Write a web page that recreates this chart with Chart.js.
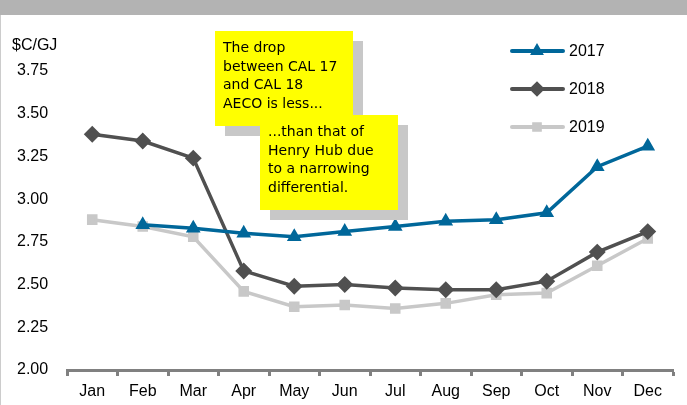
<!DOCTYPE html>
<html>
<head>
<meta charset="utf-8">
<script src="https://cdn.jsdelivr.net/npm/chart.js@4"></script>
<style>
  html, body { margin: 0; padding: 0; background: #fff; }
  #wrap { width: 687px; height: 405px; position: relative; }
</style>
</head>
<body>
<div id="wrap"><canvas id="chart" width="687" height="405"></canvas></div>
<script>
let months = ["Jan", "Feb", "Mar", "Apr", "May", "Jun", "Jul", "Aug", "Sep", "Oct", "Nov", "Dec"];
let prices2017 = [null, 2.85, 2.83, 2.80, 2.78, 2.81, 2.84, 2.87, 2.88, 2.92, 3.19, 3.31];
let prices2018 = [3.38, 3.34, 3.24, 2.58, 2.49, 2.50, 2.48, 2.47, 2.47, 2.52, 2.69, 2.81];
let prices2019 = [2.88, 2.84, 2.78, 2.46, 2.37, 2.38, 2.36, 2.39, 2.44, 2.45, 2.61, 2.77];
let yUnit = "$C/GJ";
let noteA = ["The drop", "between CAL 17", "and CAL 18", "AECO is less..."];
let noteB = ["...than that of", "Henry Hub due", "to a narrowing", "differential."];

let font = "'Liberation Sans', Arial, sans-serif";

// frame, unit label, note boxes and legend drawn straight on the canvas
let decor = {
  id: "decor",
  beforeDraw(chart) {
    let c = chart.ctx;
    c.save();
    c.fillStyle = "#b3b3b3";
    c.fillRect(0, 0, 687, 15);
    c.fillStyle = "#cccccc";
    c.fillRect(0, 15, 1, 390);
    c.fillStyle = "#000";
    c.font = "16px " + font;
    c.textBaseline = "middle";
    c.fillText(yUnit, 12, 46);
    c.restore();
  },
  afterDraw(chart) {
    let c = chart.ctx;
    c.save();
    let note = (x, y, w, h, lines) => {
      c.fillStyle = "#c8c8c8";
      c.fillRect(x + 10, y + 10, w, h);
      c.fillStyle = "#ffff00";
      c.fillRect(x, y, w, h);
      c.fillStyle = "#000";
      c.font = "14px 'Comic Sans MS', 'DejaVu Sans', sans-serif";
      c.textBaseline = "alphabetic";
      lines.forEach((t, i) => c.fillText(t, x + 8, y + 21 + i * 18.5));
    };
    note(215, 31, 138, 95, noteA);
    note(260, 115, 138, 95, noteB);

    // legend
    chart.data.datasets.forEach((ds, i) => {
      let y = 51 + i * 38;
      c.strokeStyle = ds.borderColor;
      c.lineWidth = 4;
      c.lineCap = "round";
      c.beginPath();
      c.moveTo(512, y);
      c.lineTo(563, y);
      c.stroke();
      Chart.helpers.drawPoint(c, {
        pointStyle: ds.pointStyle,
        radius: ds.pointRadius - 1,
        rotation: 0,
        borderWidth: 1
      }, 537, y);
      c.fillStyle = ds.borderColor;
      c.fill();
      c.fillStyle = "#000";
      c.font = "16px " + font;
      c.textBaseline = "middle";
      c.fillText(ds.label, 569, y + 1);
    });
    c.restore();
  }
};

function series(label, data, color, style, r) {
  return {
    label: label,
    data: data,
    borderColor: color,
    backgroundColor: color,
    pointBackgroundColor: color,
    pointBorderColor: color,
    pointStyle: style,
    pointRadius: r,
    borderWidth: 3.5,
    tension: 0,
    spanGaps: false
  };
}

new Chart(document.getElementById("chart"), {
  type: "line",
  plugins: [decor],
  data: {
    labels: months,
    datasets: [
      series("2017", prices2017, "#00679a", "triangle", 5),
      series("2018", prices2018, "#505050", "rectRot", 6),
      series("2019", prices2019, "#c8c8c8", "rect", 5)
    ]
  },
  options: {
    responsive: false,
    animation: false,
    devicePixelRatio: 1,
    layout: { padding: { top: 71, left: 17, right: 14, bottom: 0 } },
    plugins: {
      legend: { display: false },
      title: { display: false },
      tooltip: { enabled: false }
    },
    scales: {
      x: {
        offset: true,
        afterFit: (s) => { s.height = 35; },
        grid: {
          offset: true,
          drawOnChartArea: false,
          drawTicks: true,
          tickLength: 6,
          tickWidth: 3,
          color: "#808080"
        },
        border: { display: true, color: "#808080", width: 3 },
        ticks: {
          color: "#000",
          font: { size: 16, family: font },
          padding: 6,
          maxRotation: 0,
          autoSkip: false
        }
      },
      y: {
        min: 2,
        max: 3.75,
        afterFit: (s) => { s.width = 50; },
        grid: { display: false, drawTicks: false },
        border: { display: false },
        ticks: {
          stepSize: 0.25,
          crossAlign: "far",
          color: "#000",
          font: { size: 16, family: font },
          callback: (v) => v.toFixed(2)
        }
      }
    }
  }
});
</script>
</body>
</html>
